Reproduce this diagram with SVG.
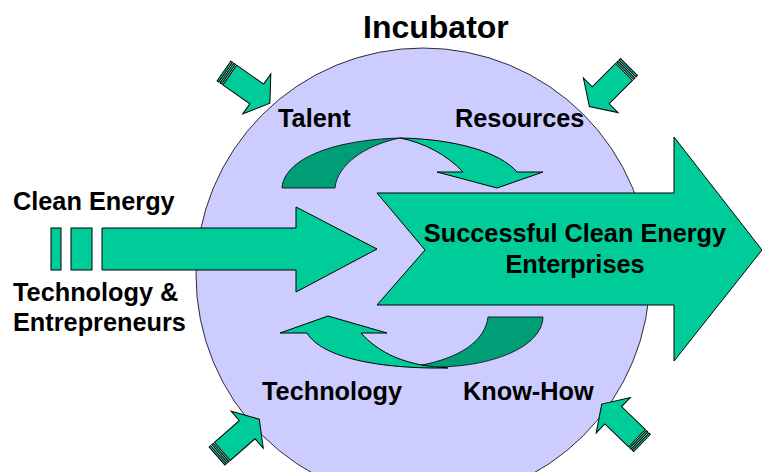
<svg xmlns="http://www.w3.org/2000/svg" xmlns:xlink="http://www.w3.org/1999/xlink" width="762" height="472" viewBox="0 0 762 472">
<style>
.g{fill:#00CC99;stroke:#000;stroke-width:1}
.d{fill:#009E76;stroke:#000;stroke-width:0.8}
.t{font-family:"Liberation Sans",Arial,sans-serif;font-weight:bold;fill:#000}
.lbl{font-size:25.3px}
</style>
<defs>
<g id="corner">
<rect class="g" x="0" y="-12" width="2" height="24"/>
<rect class="g" x="3.5" y="-12" width="2" height="24"/>
<polygon class="g" points="7,-12 40,-12 40,-24.5 56,0 40,24.5 40,12 7,12"/>
</g>
</defs>
<rect width="762" height="472" fill="#fff"/>
<g id="incubator">
<circle cx="423" cy="275" r="227" fill="#CCCCFF" stroke="#000" stroke-width="0.8"/>
<text class="t" x="363" y="38" font-size="32">Incubator</text>
</g>
<g id="connectors">
<use xlink:href="#corner" transform="translate(224,71) rotate(35)"/>
<use xlink:href="#corner" transform="translate(629,67) rotate(135)"/>
<use xlink:href="#corner" transform="translate(217,456) rotate(-41)"/>
<use xlink:href="#corner" transform="translate(642,443) rotate(-136)"/>
<g id="left-arrow">
<rect class="g" x="51" y="228" width="10" height="42"/>
<rect class="g" x="71" y="228" width="21" height="42"/>
<polygon class="g" points="102,228 296,228 296,207 377,249 296,292 296,270 102,270"/>
</g>
<g id="cycle-top">
<path class="d" d="M282,188 C284,160 330,140 400,138 C365,145 337,165 335,188 Z"/>
<path class="g" stroke-width="0.8" d="M400,138 C455,139 500,152 517,172 L543,172 L497,188 L437,172 L463,172 C447,155 425,143 400,138 Z"/>
</g>
<g id="cycle-bottom">
<path class="g" stroke-width="0.8" d="M280,333 L328,316 L387,333 L361,333 C378,352 400,361 422,365 L448,368 C380,369 322,358 307,333 Z"/>
<path class="d" d="M488,317 L543,317 C542,348 490,367 435,367 L422,365 C458,358 485,342 488,317 Z"/>
</g>
</g>
<g id="enterprises">
<polygon class="g" points="377,193 674,193 674,137 762,250 674,361 674,305 377,305 425,250"/>
<text class="t lbl" x="575" y="242" text-anchor="middle">Successful Clean Energy</text>
<text class="t lbl" x="575" y="273" text-anchor="middle">Enterprises</text>
</g>
<g id="labels">
<text class="t lbl" x="13" y="210">Clean Energy</text>
<text class="t lbl" x="13" y="301">Technology &amp;</text>
<text class="t lbl" x="13" y="331">Entrepreneurs</text>
<text class="t lbl" x="278" y="127">Talent</text>
<text class="t lbl" x="455" y="127">Resources</text>
<text class="t lbl" x="262" y="400">Technology</text>
<text class="t lbl" x="463" y="400">Know-How</text>
</g>
</svg>
